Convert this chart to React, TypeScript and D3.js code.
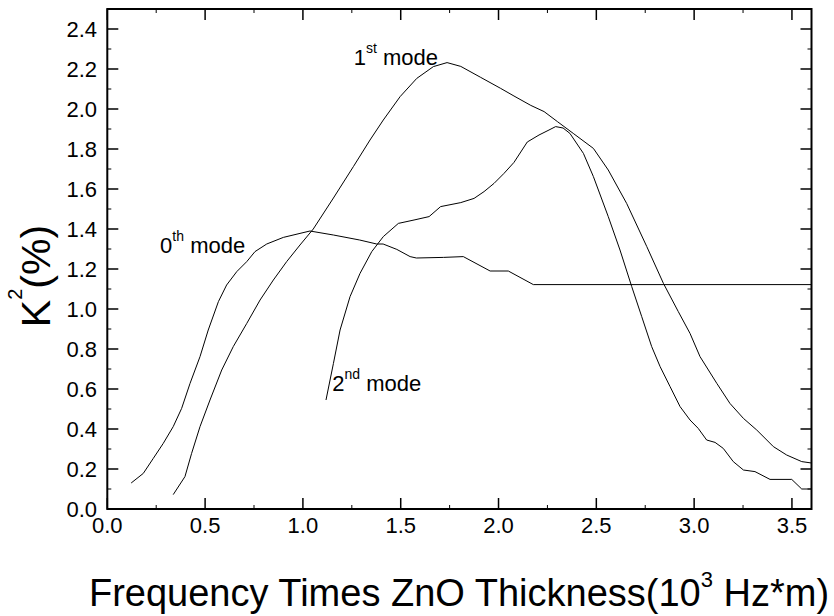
import React from "react";
import * as d3 from "d3";

// ---------- data ----------
const mode0X = [0.122, 0.184, 0.235, 0.286, 0.337, 0.38, 0.423, 0.474, 0.516, 0.568, 0.61, 0.662, 0.713, 0.755, 0.815, 0.9, 0.985, 1.036, 1.156, 1.29, 1.377, 1.41, 1.48, 1.548, 1.58, 1.718, 1.82, 1.957, 2.05, 2.178, 3.6];
const mode0Y = [0.13, 0.178, 0.253, 0.328, 0.412, 0.503, 0.628, 0.762, 0.895, 1.037, 1.12, 1.187, 1.237, 1.287, 1.325, 1.358, 1.378, 1.39, 1.37, 1.345, 1.325, 1.325, 1.298, 1.262, 1.255, 1.258, 1.262, 1.19, 1.19, 1.122, 1.122];

const mode1X = [0.337, 0.397, 0.431, 0.474, 0.525, 0.585, 0.644, 0.713, 0.781, 0.849, 0.917, 0.985, 1.053, 1.156, 1.258, 1.343, 1.411, 1.497, 1.582, 1.667, 1.737, 1.807, 1.909, 2.011, 2.079, 2.165, 2.233, 2.301, 2.382, 2.485, 2.561, 2.655, 2.758, 2.843, 2.919, 2.979, 3.03, 3.116, 3.183, 3.252, 3.32, 3.405, 3.473, 3.55, 3.6];
const mode1Y = [0.072, 0.162, 0.278, 0.412, 0.545, 0.695, 0.812, 0.928, 1.045, 1.145, 1.237, 1.32, 1.4, 1.555, 1.712, 1.845, 1.945, 2.062, 2.153, 2.212, 2.232, 2.213, 2.158, 2.103, 2.065, 2.018, 1.987, 1.937, 1.878, 1.803, 1.695, 1.528, 1.312, 1.128, 0.987, 0.878, 0.762, 0.628, 0.528, 0.453, 0.395, 0.312, 0.27, 0.237, 0.23];

const mode2X = [1.118, 1.156, 1.19, 1.241, 1.292, 1.352, 1.411, 1.488, 1.568, 1.645, 1.704, 1.807, 1.875, 1.926, 1.977, 2.028, 2.079, 2.147, 2.207, 2.258, 2.292, 2.33, 2.365, 2.434, 2.485, 2.561, 2.621, 2.681, 2.732, 2.783, 2.826, 2.877, 2.928, 2.979, 3.021, 3.064, 3.107, 3.149, 3.2, 3.252, 3.311, 3.388, 3.499, 3.55, 3.6];
const mode2Y = [0.545, 0.728, 0.895, 1.062, 1.178, 1.287, 1.362, 1.428, 1.445, 1.462, 1.512, 1.532, 1.553, 1.587, 1.628, 1.678, 1.733, 1.835, 1.87, 1.895, 1.912, 1.905, 1.878, 1.778, 1.662, 1.462, 1.295, 1.112, 0.962, 0.812, 0.712, 0.612, 0.512, 0.445, 0.403, 0.345, 0.333, 0.303, 0.237, 0.195, 0.187, 0.148, 0.148, 0.1, 0.1];

const xTickValues = [0, 0.5, 1.0, 1.5, 2.0, 2.5, 3.0, 3.5];
const yTickValues = [0, 0.2, 0.4, 0.6, 0.8, 1.0, 1.2, 1.4, 1.6, 1.8, 2.0, 2.2, 2.4];
const xMinorValues = [0.25, 0.75, 1.25, 1.75, 2.25, 2.75, 3.25];
const yMinorValues = [0.1, 0.3, 0.5, 0.7, 0.9, 1.1, 1.3, 1.5, 1.7, 1.9, 2.1, 2.3];

const labelMains = ["0", "1", "2"];
const labelSups = ["th", "st", "nd"];
const labelPos = [[0.27, 1.28], [1.26, 2.22], [1.15, 0.59]];

const xDomain = [0, 3.6];
const yDomain = [0, 2.5];

const FONT = "'Liberation Sans', Arial, sans-serif";

export default function App() {
  const W = 834, H = 616;
  const x = d3.scaleLinear().domain(xDomain).range([107.3, 811.5]);
  const y = d3.scaleLinear().domain(yDomain).range([509, 9]);
  const line = d3.line<[number, number]>().x(d => x(d[0])).y(d => y(d[1]));
  const series = [
    mode0X.map((v, i) => [v, mode0Y[i]] as [number, number]),
    mode1X.map((v, i) => [v, mode1Y[i]] as [number, number]),
    mode2X.map((v, i) => [v, mode2Y[i]] as [number, number]),
  ];
  const x0 = x.range()[0], x1 = x.range()[1], y0 = y.range()[0], y1 = y.range()[1];
  const major = 11, minor = 4;

  return (
    <svg width={W} height={H} style={{ position: "absolute", left: 0, top: 0, background: "#fff" }} fontFamily={FONT}>
      <rect width={W} height={H} fill="#fff" />
      {series.map((s, i) => (
        <path key={i} d={line(s) || ""} fill="none" stroke="#000" strokeWidth={1} />
      ))}
      {/* frame */}
      <rect x={x0} y={y1} width={x1 - x0} height={y0 - y1} fill="none" stroke="#000" strokeWidth={2} />
      {/* x ticks */}
      {xTickValues.map(v => (
        <g key={"xt" + v}>
          <line x1={x(v)} x2={x(v)} y1={y0} y2={y0 - major} stroke="#000" strokeWidth={1.5} />
          <line x1={x(v)} x2={x(v)} y1={y1} y2={y1 + major} stroke="#000" strokeWidth={1.5} />
          <text x={x(v)} y={533} fontSize={22} textAnchor="middle" fill="#000">{d3.format(".1f")(v)}</text>
        </g>
      ))}
      {xMinorValues.map(v => (
        <g key={"xm" + v}>
          <line x1={x(v)} x2={x(v)} y1={y0} y2={y0 - minor} stroke="#000" strokeWidth={1} />
          <line x1={x(v)} x2={x(v)} y1={y1} y2={y1 + minor} stroke="#000" strokeWidth={1} />
        </g>
      ))}
      {/* y ticks */}
      {yTickValues.map(v => (
        <g key={"yt" + v}>
          <line x1={x0} x2={x0 + major} y1={y(v)} y2={y(v)} stroke="#000" strokeWidth={1.5} />
          <line x1={x1} x2={x1 - major} y1={y(v)} y2={y(v)} stroke="#000" strokeWidth={1.5} />
          <text x={97} y={y(v)} dy="0.36em" fontSize={22} textAnchor="end" fill="#000">{d3.format(".1f")(v)}</text>
        </g>
      ))}
      {yMinorValues.map(v => (
        <g key={"ym" + v}>
          <line x1={x0} x2={x0 + minor} y1={y(v)} y2={y(v)} stroke="#000" strokeWidth={1} />
          <line x1={x1} x2={x1 - minor} y1={y(v)} y2={y(v)} stroke="#000" strokeWidth={1} />
        </g>
      ))}
      {/* mode labels */}
      {labelMains.map((m, i) => (
        <text key={"lab" + i} x={x(labelPos[i][0])} y={y(labelPos[i][1])} fontSize={22} fill="#000">
          {m}
          <tspan fontSize={14} dy={-12}>{labelSups[i]}</tspan>
          <tspan dy={12}>{" mode"}</tspan>
        </text>
      ))}
      {/* axis titles */}
      <text x={459} y={606} fontSize={38} textAnchor="middle" fill="#000">
        Frequency Times ZnO Thickness(10
        <tspan fontSize={22} dy={-19}>3</tspan>
        <tspan dy={19}>{" Hz*m)"}</tspan>
      </text>
      <text transform="translate(50,276) rotate(-90)" fontSize={41} textAnchor="middle" fill="#000">
        K
        <tspan fontSize={20} dy={-28}>2</tspan>
        <tspan dy={28}>(%)</tspan>
      </text>
    </svg>
  );
}
